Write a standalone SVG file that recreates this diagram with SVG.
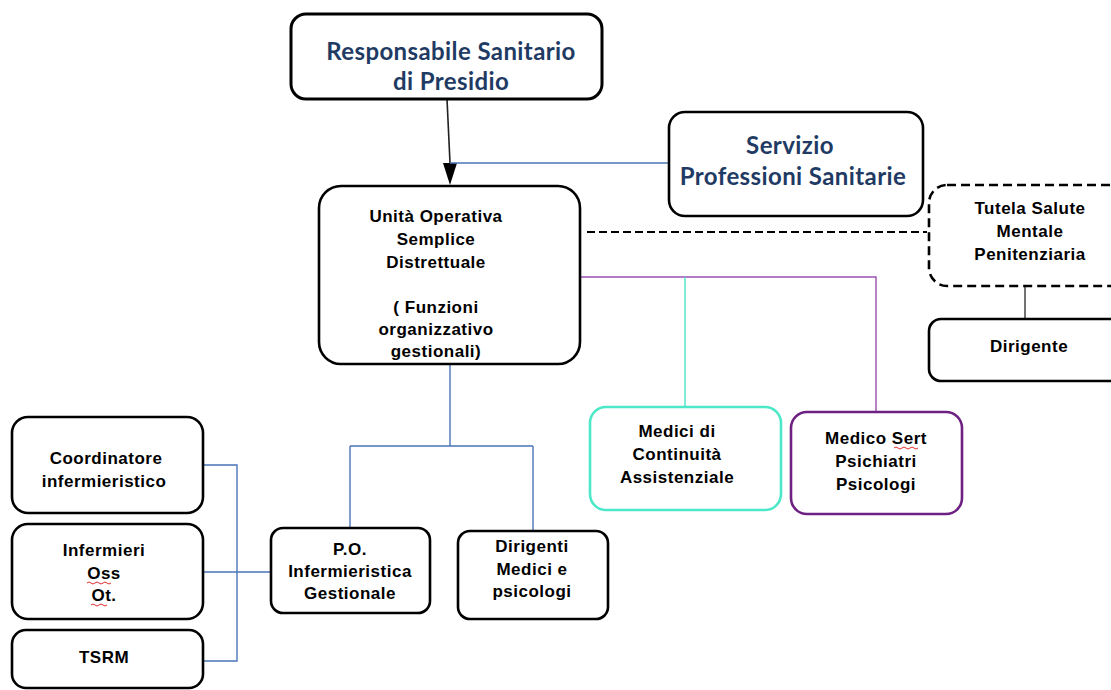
<svg xmlns="http://www.w3.org/2000/svg" width="1111" height="690" viewBox="0 0 1111 690">
<defs>
<style>
.box{fill:#fff;stroke:#000;stroke-width:2.6}
.dash{fill:#fff;stroke:#000;stroke-width:2.6;stroke-dasharray:9 5}
.t{font-family:"Liberation Sans",Arial,sans-serif;font-weight:bold;font-size:17px;letter-spacing:0.5px;fill:#000;text-anchor:middle}
.tb{font-family:Lato,"Liberation Sans",sans-serif;font-weight:bold;font-size:24px;letter-spacing:0.4px;fill:#1f3b64;text-anchor:middle}
.c{fill:none;stroke:#4a74b8;stroke-width:1.4}
.sq{fill:none;stroke:#e03030;stroke-width:1}
</style>
</defs>
<rect width="1111" height="690" fill="#fff"/>
<g id="connectors">
<path d="M447,99 L450,163" stroke="#222" stroke-width="1.6" fill="none"/>
<path d="M443,163 L457,163 L450,185 Z" fill="#000"/>
<path class="c" d="M450,163 L669,163"/>
<path d="M587,232 L927,232" stroke="#000" stroke-width="2" stroke-dasharray="8 4" fill="none"/>
<path d="M1025,286 L1025,318" stroke="#444" stroke-width="1.5" fill="none"/>
<path d="M580,277 L876,277 L876,412" stroke="#9b4fb3" stroke-width="1.4" fill="none"/>
<path d="M685,277 L685,407" stroke="#4de3c3" stroke-width="1.4" fill="none"/>
<path class="c" d="M450,364 L450,446 M350,446 L533,446 M350,446 L350,528 M533,446 L533,531"/>
<path class="c" d="M203,465 L237,465 L237,661 L203,661 M203,572 L271,572"/>
</g>
<g id="responsabile">
<rect class="box" x="291" y="14" width="311" height="85" rx="15" style="stroke-width:3"/>
<text class="tb" x="451" y="60">Responsabile Sanitario</text>
<text class="tb" x="451" y="90">di Presidio</text>
</g>
<g id="servizio">
<rect class="box" x="669" y="112" width="254" height="104" rx="16"/>
<text class="tb" x="790" y="154">Servizio</text>
<text class="tb" x="793" y="185">Professioni Sanitarie</text>
</g>
<g id="unita">
<rect class="box" x="319" y="186" width="261" height="178" rx="22"/>
<text class="t" x="436" y="222">Unità Operativa</text>
<text class="t" x="436" y="245">Semplice</text>
<text class="t" x="436" y="268">Distrettuale</text>
<text class="t" x="436" y="313">( Funzioni</text>
<text class="t" x="436" y="335">organizzativo</text>
<text class="t" x="436" y="357">gestionali)</text>
</g>
<g id="tutela">
<rect class="dash" x="929" y="185" width="200" height="101" rx="18"/>
<text class="t" x="1030" y="214">Tutela Salute</text>
<text class="t" x="1030" y="237">Mentale</text>
<text class="t" x="1030" y="260">Penitenziaria</text>
</g>
<g id="dirigente">
<rect class="box" x="929" y="319" width="200" height="62" rx="12"/>
<text class="t" x="1029" y="352">Dirigente</text>
</g>
<g id="medici-continuita">
<rect class="box" x="590" y="407" width="191" height="103" rx="16" style="stroke:#4de8c8"/>
<text class="t" x="677" y="437">Medici di</text>
<text class="t" x="677" y="460">Continuità</text>
<text class="t" x="677" y="483">Assistenziale</text>
</g>
<g id="medico-sert">
<rect class="box" x="791" y="412" width="171" height="102" rx="16" style="stroke:#6e2182"/>
<text class="t" x="876" y="444">Medico Sert</text>
<text class="t" x="876" y="467">Psichiatri</text>
<text class="t" x="876" y="490">Psicologi</text>
<path class="sq" d="M894,448 q2,-2 4,0 t4,0 t4,0 t4,0 t4,0 t4,0"/>
</g>
<g id="dirigenti-medici">
<rect class="box" x="458" y="531" width="150" height="88" rx="12"/>
<text class="t" x="532" y="552">Dirigenti</text>
<text class="t" x="532" y="575">Medici e</text>
<text class="t" x="532" y="597">psicologi</text>
</g>
<g id="po">
<rect class="box" x="271" y="528" width="159" height="85" rx="12"/>
<text class="t" x="350" y="555">P.O.</text>
<text class="t" x="350" y="577">Infermieristica</text>
<text class="t" x="350" y="599">Gestionale</text>
</g>
<g id="coordinatore">
<rect class="box" x="12" y="417" width="191" height="96" rx="16"/>
<text class="t" x="106" y="464">Coordinatore</text>
<text class="t" x="104" y="487">infermieristico</text>
</g>
<g id="infermieri">
<rect class="box" x="12" y="524" width="191" height="95" rx="16"/>
<text class="t" x="104" y="556">Infermieri</text>
<text class="t" x="104" y="579">Oss</text>
<text class="t" x="104" y="601">Ot.</text>
<path class="sq" d="M87,583 q2,-2 4,0 t4,0 t4,0 t4,0 t4,0 t4,0"/>
<path class="sq" d="M91,605 q2,-2 4,0 t4,0 t4,0 t4,0"/>
</g>
<g id="tsrm">
<rect class="box" x="12" y="630" width="191" height="58" rx="14"/>
<text class="t" x="104" y="663">TSRM</text>
</g>
</svg>
